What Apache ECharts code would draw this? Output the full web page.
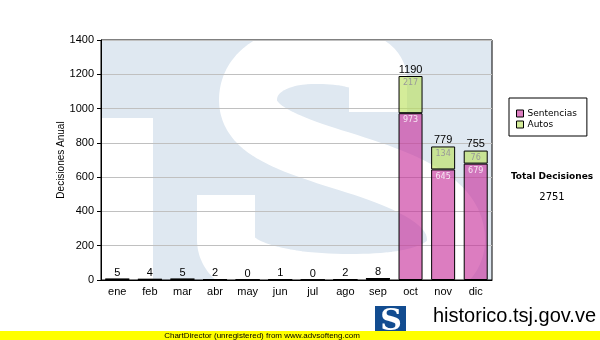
<!DOCTYPE html>
<html><head><meta charset="utf-8">
<script src="https://cdn.jsdelivr.net/npm/echarts@6/dist/echarts.min.js"></script>
<style>html,body{margin:0;padding:0;background:#fff}#c{width:600px;height:340px}</style>
</head><body><div id="c"></div>
<script>
const months = ['ene','feb','mar','abr','may','jun','jul','ago','sep','oct','nov','dic'];
const sentencias = [5,4,5,2,0,1,0,2,8,973,645,679];
const autos = [0,0,0,0,0,0,0,0,0,217,134,76];
const totals = [5,4,5,2,0,1,0,2,8,1190,779,755];
const totalDecisiones = 2751;
const yTicks = {min:0, max:1400, interval:200};

// decorative watermark "S" centreline (pixel space), sampled to a polyline
const S_SEGS = [
  [[378,112],[378,80]],
  [[378,80],[378,62],[352,55],[315,55]],
  [[315,55],[272,55],[248,74],[248,100]],
  [[248,100],[248,128],[282,142],[340,160]],
  [[340,160],[405,180],[456,200],[456,240]],
  [[456,240],[456,275],[405,283],[350,283]],
  [[350,283],[290,283],[226,272],[226,240]],
  [[226,240],[226,195]]
];
function sampleSegs(segs){
  const pts=[];
  segs.forEach(s=>{
    if(s.length===2){ pts.push(s[0], s[1]); return; }
    for(let i=0;i<=24;i++){
      const t=i/24, u=1-t;
      pts.push([u*u*u*s[0][0]+3*u*u*t*s[1][0]+3*u*t*t*s[2][0]+t*t*t*s[3][0],
                u*u*u*s[0][1]+3*u*u*t*s[1][1]+3*u*t*t*s[2][1]+t*t*t*s[3][1]]);
    }
  });
  return pts;
}

const chart = echarts.init(document.getElementById('c'), null, {renderer:'canvas'});
const zeros = months.map(() => 0);
const option = {
  animation: false,
  backgroundColor: '#fff',
  grid: {left:101, top:40, right:108, bottom:60, show:true, borderColor:'#000', borderWidth:1, backgroundColor:'transparent'},
  legend: {
    data: ['Sentencias','Autos'], orient:'vertical', left:509, top:98,
    itemWidth:7, itemHeight:7, itemGap:2, icon:'rect',
    padding:[11,10,7,7], borderColor:'#000', borderWidth:1, backgroundColor:'#fff',
    textStyle:{fontFamily:'DejaVu Sans', fontSize:9, color:'#000', padding:[0,0,0,-1]},
    itemStyle:{borderColor:'#000', borderWidth:1}
  },
  xAxis: {
    type:'category', data: months,
    axisLine:{lineStyle:{color:'#000', width:1}},
    axisTick:{alignWithLabel:true, length:4, lineStyle:{color:'#000'}},
    axisLabel:{color:'#000', fontFamily:'Liberation Sans', fontSize:11, margin:6}
  },
  yAxis: {
    type:'value', min:yTicks.min, max:yTicks.max, interval:yTicks.interval,
    name:'Decisiones Anual', nameLocation:'middle', nameGap:35, nameMoveOverlap:false,
    nameTextStyle:{color:'#000', fontFamily:'Liberation Sans', fontSize:10},
    axisLine:{show:true, lineStyle:{color:'#000'}},
    axisTick:{show:true, length:4, lineStyle:{color:'#000'}},
    axisLabel:{color:'#000', fontFamily:'Liberation Sans', fontSize:11, margin:7, formatter: v => String(v)},
    splitLine:{show:true, lineStyle:{color:'#c0c0c0', width:1}}
  },
  series: [
    {name:'Sentencias', type:'bar', stack:'a', data: sentencias, barWidth:24,
     itemStyle:{color:'rgba(199,45,154,0.62)', borderColor:'#000', borderWidth:1},
     label:{show:true, position:'insideTop', distance:3, color:'#f6e6f2', fontFamily:'DejaVu Sans', fontSize:8,
       formatter: p => p.value >= 50 ? String(p.value) : ''}},
    {name:'Autos', type:'bar', stack:'a', data: autos, barWidth:24,
     itemStyle:{color:'rgba(186,225,90,0.62)', borderColor:'#000', borderWidth:1},
     label:{show:true, position:'insideTop', distance:3, color:'#999', fontFamily:'DejaVu Sans', fontSize:8,
       formatter: p => p.value >= 50 ? String(p.value) : ''}},
    {name:'Total', type:'bar', stack:'a', data: zeros, barWidth:24,
     itemStyle:{color:'rgba(0,0,0,0)', borderWidth:0},
     label:{show:true, position:'top', distance:1, color:'#000', fontFamily:'Liberation Sans', fontSize:11,
       formatter: p => String(totals[p.dataIndex])}}
  ],
  graphic: [
    {type:'rect', z:-10, silent:true, shape:{x:101, y:40, width:391, height:240}, style:{fill:'#dfe8f1'}},
    {type:'rect', z:-9, silent:true, shape:{x:101, y:118, width:52, height:162}, style:{fill:'#fff'}},
    {type:'polyline', z:-9, silent:true, shape:{points:sampleSegs(S_SEGS)}, style:{fill:null, stroke:'#fff', lineWidth:58, lineCap:'butt', lineJoin:'round'}},
    {type:'text', silent:true, x:552, y:177, style:{text:'Total Decisiones', fill:'#000', font:'bold 9px "DejaVu Sans"', textAlign:'center', textVerticalAlign:'middle'}},
    {type:'text', silent:true, x:552, y:197, style:{text:String(totalDecisiones), fill:'#000', font:'10px "DejaVu Sans"', textAlign:'center', textVerticalAlign:'middle'}},
    {type:'rect', silent:true, shape:{x:375, y:306, width:31, height:30}, style:{fill:'#124c90'}},
    {type:'text', silent:true, x:391, y:322, style:{text:'S', fill:'#fff', font:'bold 30px "DejaVu Serif"', textAlign:'center', textVerticalAlign:'middle'}},
    {type:'text', silent:true, x:433, y:316, style:{text:'historico.tsj.gov.ve', fill:'#000', font:'20px "Liberation Sans"', textAlign:'left', textVerticalAlign:'middle'}},
    {type:'text', silent:true, x:418, y:337, style:{text:'Tribunal Supremo de Justicia', fill:'#000', font:'12px "Liberation Sans"', textAlign:'left', textVerticalAlign:'middle'}},
    {type:'rect', silent:true, z:100, shape:{x:0, y:331, width:600, height:9}, style:{fill:'#ffff00'}},
    {type:'text', silent:true, z:101, x:262, y:335.5, style:{text:'ChartDirector (unregistered) from www.advsofteng.com', fill:'#000', font:'8px "Liberation Sans"', textAlign:'center', textVerticalAlign:'middle'}}
  ]
};
chart.setOption(option);
</script></body></html>
